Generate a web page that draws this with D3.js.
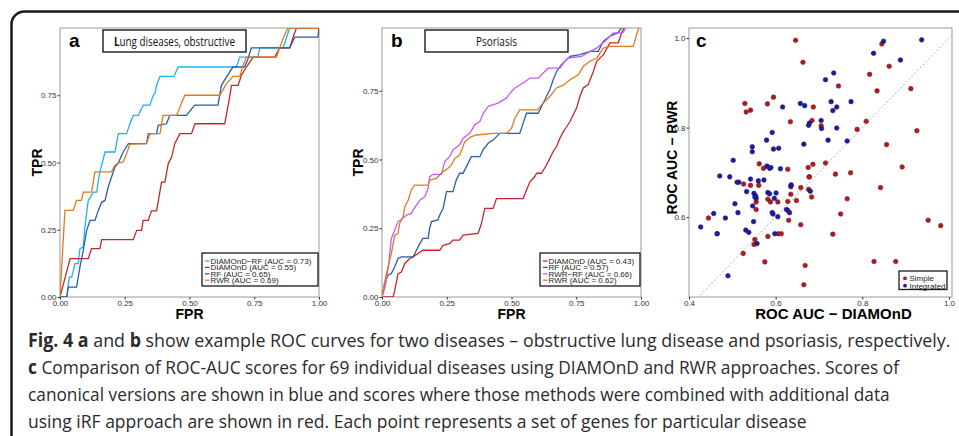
<!DOCTYPE html>
<html lang="en">
  <head>
    <meta charset="UTF-8" />
    <title>Fig. 4 ROC curves and ROC-AUC comparison</title>
    <script src="https://d3js.org/d3.v7.min.js"></script>
    <style>
      body { margin: 0; background: #fff; }
      svg { display: block; }
      .tick text { font: 8px "Liberation Sans", Arial, sans-serif; fill: #333; }
      .tick line { stroke: #333; }
      .axis-title { font: bold 14px "Liberation Sans", Arial, sans-serif; fill: #000; }
      .legend text { font: 8px "Liberation Sans", Arial, sans-serif; fill: #222; }
      .panel-tag { font: bold 19px "Liberation Sans", Arial, sans-serif; fill: #000; }
      .panel-title { font: 12px "Open Sans", sans-serif; fill: #111; }
      .caption { font: 19px "Open Sans", sans-serif; fill: #2b2b2b; }
    </style>
  </head>
  <body>
    <svg id="fig" width="959" height="436"></svg>
    <script>
      // ---- data ----
      // panel a: obstructive lung disease, [FPR, TPR]
      const lungNames = ["DIAMOnD\u2212RF", "DIAMOnD", "RF", "RWR"];
      const lungAuc = [0.73, 0.55, 0.65, 0.69];
      const lungDiamondRF = [[0,0],[0.026,0],[0.036,0.074],[0.045,0.074],[0.058,0.124],[0.07,0.124],[0.077,0.18],[0.09,0.186],[0.096,0.26],[0.109,0.359],[0.129,0.39],[0.142,0.39],[0.148,0.434],[0.154,0.465],[0.174,0.539],[0.212,0.539],[0.225,0.607],[0.257,0.607],[0.27,0.644],[0.283,0.675],[0.302,0.675],[0.321,0.713],[0.347,0.713],[0.36,0.75],[0.366,0.756],[0.373,0.787],[0.386,0.82],[0.44,0.82],[0.456,0.855],[0.681,0.855],[0.694,0.892],[0.764,0.892],[0.771,0.926],[0.861,0.926],[0.874,0.963],[0.887,1],[1,1]];
      const lungDiamond = [[0,0],[0.039,0.143],[0.109,0.143],[0.122,0.18],[0.154,0.18],[0.161,0.213],[0.283,0.213],[0.296,0.248],[0.315,0.248],[0.321,0.285],[0.341,0.285],[0.353,0.32],[0.373,0.32],[0.392,0.427],[0.405,0.427],[0.418,0.496],[0.431,0.52],[0.443,0.57],[0.463,0.607],[0.508,0.607],[0.521,0.644],[0.636,0.644],[0.655,0.743],[0.662,0.787],[0.688,0.787],[0.7,0.824],[0.72,0.855],[0.746,0.892],[0.829,0.892],[0.848,0.926],[0.887,0.926],[0.9,0.966],[0.913,1],[1,1]];
      const lungRF = [[0,0],[0.026,0],[0.032,0.037],[0.064,0.037],[0.077,0.112],[0.09,0.174],[0.103,0.248],[0.116,0.285],[0.135,0.285],[0.148,0.322],[0.161,0.353],[0.174,0.359],[0.186,0.409],[0.212,0.483],[0.225,0.498],[0.244,0.539],[0.264,0.57],[0.334,0.57],[0.341,0.607],[0.373,0.607],[0.379,0.638],[0.411,0.644],[0.424,0.675],[0.488,0.675],[0.52,0.713],[0.61,0.713],[0.623,0.787],[0.643,0.818],[0.668,0.855],[0.713,0.855],[0.726,0.886],[0.739,0.926],[0.887,0.926],[0.906,0.966],[0.996,0.966],[1,1]];
      const lungRWR = [[0,0],[0.019,0.322],[0.051,0.322],[0.064,0.359],[0.083,0.359],[0.09,0.39],[0.122,0.39],[0.135,0.465],[0.199,0.465],[0.212,0.49],[0.225,0.498],[0.244,0.502],[0.257,0.533],[0.27,0.568],[0.334,0.57],[0.347,0.607],[0.386,0.607],[0.398,0.675],[0.45,0.675],[0.482,0.75],[0.617,0.75],[0.643,0.793],[0.668,0.82],[0.694,0.82],[0.707,0.861],[0.72,0.892],[0.836,0.892],[0.848,0.926],[0.861,0.96],[0.88,1],[1,1]];

      // panel b: psoriasis, [FPR, TPR]
      const psoNames = ["DIAMOnD", "RF", "RWR\u2212RF", "RWR"];
      const psoAuc = [0.43, 0.57, 0.66, 0.62];
      const psoDiamond = [[0,0],[0.043,0],[0.049,0.024],[0.062,0.085],[0.075,0.091],[0.088,0.122],[0.107,0.14],[0.12,0.146],[0.139,0.158],[0.158,0.17],[0.223,0.17],[0.236,0.188],[0.261,0.194],[0.274,0.207],[0.3,0.207],[0.313,0.225],[0.371,0.231],[0.384,0.267],[0.397,0.322],[0.429,0.322],[0.442,0.358],[0.545,0.358],[0.558,0.389],[0.571,0.419],[0.59,0.438],[0.597,0.45],[0.616,0.45],[0.635,0.48],[0.648,0.504],[0.661,0.529],[0.674,0.547],[0.687,0.577],[0.7,0.601],[0.713,0.619],[0.726,0.638],[0.738,0.662],[0.751,0.686],[0.764,0.729],[0.777,0.76],[0.796,0.772],[0.816,0.82],[0.829,0.857],[0.855,0.881],[0.88,0.924],[0.912,0.924],[0.925,0.96],[0.938,0.985],[1,1]];
      const psoRF = [[0,0],[0.01,0.049],[0.023,0.079],[0.036,0.085],[0.049,0.109],[0.062,0.14],[0.075,0.146],[0.12,0.146],[0.133,0.17],[0.146,0.194],[0.158,0.213],[0.178,0.213],[0.184,0.25],[0.191,0.274],[0.216,0.28],[0.223,0.298],[0.236,0.322],[0.249,0.383],[0.274,0.383],[0.287,0.426],[0.3,0.45],[0.313,0.45],[0.326,0.474],[0.345,0.51],[0.378,0.51],[0.39,0.535],[0.41,0.559],[0.429,0.571],[0.442,0.583],[0.455,0.595],[0.532,0.595],[0.545,0.632],[0.558,0.668],[0.603,0.668],[0.616,0.693],[0.629,0.717],[0.648,0.754],[0.661,0.79],[0.674,0.82],[0.693,0.845],[0.726,0.875],[0.764,0.881],[0.803,0.893],[0.835,0.893],[0.855,0.93],[0.88,0.948],[0.91,0.96],[0.93,0.985],[1,1]];
      const psoRWRRF = [[0,0],[0.013,0.04],[0.026,0.12],[0.036,0.213],[0.049,0.243],[0.062,0.274],[0.081,0.286],[0.094,0.298],[0.113,0.304],[0.12,0.316],[0.133,0.334],[0.146,0.352],[0.165,0.364],[0.178,0.395],[0.184,0.437],[0.197,0.446],[0.23,0.446],[0.242,0.492],[0.261,0.51],[0.274,0.535],[0.3,0.553],[0.313,0.577],[0.339,0.595],[0.358,0.626],[0.378,0.638],[0.391,0.668],[0.41,0.693],[0.448,0.705],[0.48,0.723],[0.5,0.747],[0.513,0.76],[0.545,0.778],[0.571,0.796],[0.603,0.796],[0.622,0.814],[0.642,0.832],[0.687,0.832],[0.706,0.857],[0.719,0.869],[0.771,0.875],[0.803,0.893],[0.829,0.905],[0.861,0.93],[0.893,0.96],[0.93,0.96],[0.945,0.985],[1,1]];
      const psoRWR = [[0,0],[0.017,0.085],[0.036,0.158],[0.049,0.225],[0.062,0.231],[0.068,0.267],[0.081,0.29],[0.088,0.328],[0.101,0.352],[0.113,0.389],[0.126,0.407],[0.178,0.407],[0.184,0.425],[0.21,0.431],[0.229,0.45],[0.255,0.468],[0.268,0.48],[0.281,0.504],[0.3,0.516],[0.32,0.565],[0.345,0.583],[0.365,0.589],[0.429,0.595],[0.481,0.595],[0.5,0.613],[0.513,0.65],[0.532,0.68],[0.6,0.68],[0.622,0.705],[0.648,0.729],[0.674,0.76],[0.7,0.77],[0.726,0.79],[0.758,0.808],[0.777,0.838],[0.803,0.857],[0.829,0.869],[0.855,0.905],[0.88,0.911],[0.97,0.911],[0.985,0.96],[1,1]];

      // panel c: ROC AUC, [DIAMOnD, RWR]
      const simpleScores = [[0.646,0.995],[0.663,0.946],[0.745,0.893],[0.529,0.854],[0.581,0.853],[0.595,0.868],[0.532,0.835],[0.542,0.839],[0.687,0.846],[0.634,0.813],[0.684,0.816],[0.705,0.804],[0.845,0.987],[0.862,0.937],[0.817,0.919],[0.834,0.882],[0.912,0.887],[0.809,0.814],[0.788,0.796],[0.926,0.793],[0.856,0.762],[0.892,0.712],[0.562,0.719],[0.572,0.709],[0.628,0.707],[0.675,0.711],[0.686,0.718],[0.715,0.721],[0.677,0.69],[0.738,0.696],[0.773,0.699],[0.526,0.674],[0.542,0.671],[0.561,0.671],[0.635,0.668],[0.658,0.666],[0.676,0.662],[0.635,0.651],[0.683,0.645],[0.582,0.64],[0.588,0.634],[0.605,0.634],[0.628,0.635],[0.648,0.637],[0.555,0.634],[0.555,0.617],[0.765,0.641],[0.75,0.607],[0.842,0.666],[0.445,0.598],[0.465,0.563],[0.628,0.615],[0.63,0.593],[0.658,0.583],[0.606,0.563],[0.613,0.563],[0.582,0.557],[0.732,0.562],[0.552,0.55],[0.55,0.539],[0.525,0.519],[0.575,0.5],[0.668,0.492],[0.665,0.449],[0.827,0.501],[0.877,0.501],[0.952,0.593],[0.981,0.581],[0.678,0.69]];
      const integratedScores = [[0.849,0.993],[0.826,0.966],[0.937,0.996],[0.888,0.951],[0.734,0.922],[0.715,0.907],[0.657,0.854],[0.667,0.849],[0.616,0.846],[0.728,0.858],[0.741,0.846],[0.732,0.838],[0.774,0.858],[0.705,0.816],[0.678,0.81],[0.676,0.805],[0.706,0.798],[0.741,0.799],[0.721,0.772],[0.765,0.77],[0.592,0.789],[0.579,0.772],[0.546,0.757],[0.546,0.746],[0.595,0.752],[0.607,0.754],[0.665,0.763],[0.502,0.727],[0.471,0.692],[0.494,0.69],[0.511,0.678],[0.515,0.678],[0.542,0.685],[0.56,0.681],[0.58,0.714],[0.586,0.709],[0.589,0.711],[0.611,0.708],[0.573,0.683],[0.533,0.657],[0.55,0.653],[0.554,0.647],[0.555,0.642],[0.582,0.655],[0.586,0.652],[0.601,0.654],[0.597,0.642],[0.635,0.67],[0.68,0.658],[0.506,0.63],[0.547,0.625],[0.513,0.61],[0.457,0.608],[0.484,0.598],[0.592,0.61],[0.594,0.607],[0.605,0.601],[0.625,0.617],[0.632,0.61],[0.549,0.59],[0.427,0.578],[0.531,0.571],[0.538,0.566],[0.465,0.563],[0.598,0.563],[0.557,0.541],[0.49,0.469],[0.636,0.672],[0.552,0.645]];
      const scatterNames = ["Simple", "Integrated"];

      const rocTicks = [0, 0.25, 0.5, 0.75, 1];
      const aucTicks = [0.4, 0.6, 0.8, 1.0];

      const captionLines = [
        [["Fig. 4 a", true], [" and ", false], ["b", true], [" show example ROC curves for two diseases \u2013 obstructive lung disease and psoriasis, respectively.", false]],
        [["c", true], [" Comparison of ROC-AUC scores for 69 individual diseases using DIAMOnD and RWR approaches. Scores of", false]],
        [["canonical versions are shown in blue and scores where those methods were combined with additional data", false]],
        [["using iRF approach are shown in red. Each point represents a set of genes for particular disease", false]],
      ];

      // ---- drawing ----
      const svg = d3.select("#fig");
      svg.append("rect").attr("width", 959).attr("height", 436).attr("fill", "#fff");

      // the original face is a narrow humanist sans: squeeze Open Sans horizontally to the measured width
      function squeeze(t, x, y, width, anchor) {
        const w = t.node().getComputedTextLength();
        const sx = Math.min(1, width / w);
        const x0 = anchor === "middle" ? x - (w * sx) / 2 : x;
        t.attr("x", 0).attr("y", 0).attr("text-anchor", "start")
          .attr("transform", `translate(${x0},${y}) scale(${sx},1)`);
      }

      // rounded frame around the figure
      svg.append("path")
        .attr("d", "M11.5,436 V25 A13,13 0 0 1 24.5,11.5 H959")
        .attr("fill", "none")
        .attr("stroke", "#1a1a1a")
        .attr("stroke-width", 2.5);

      function panelFrame(g, x, y, id) {
        const [x0, x1] = x.range();
        const [y1, y0] = y.range();
        g.append("clipPath").attr("id", id)
          .append("rect").attr("x", x0).attr("y", y0).attr("width", x1 - x0).attr("height", y1 - y0);
        g.append("rect")
          .attr("x", x0).attr("y", y0).attr("width", x1 - x0).attr("height", y1 - y0)
          .attr("fill", "#fff").attr("stroke", "#9a9a9a").attr("stroke-width", 1);
      }

      function drawAxes(g, x, y, xTicks, yTicks, fmt) {
        g.append("g")
          .attr("transform", `translate(0,${y.range()[0]})`)
          .call(d3.axisBottom(x).tickValues(xTicks).tickFormat(fmt).tickSize(2.5).tickPadding(0.5))
          .call((a) => a.select(".domain").remove());
        g.append("g")
          .attr("transform", `translate(${x.range()[0]},0)`)
          .call(d3.axisLeft(y).tickValues(yTicks).tickFormat(fmt).tickSize(2.5).tickPadding(1))
          .call((a) => a.select(".domain").remove());
      }

      function drawRoc(cfg) {
        const g = svg.append("g");
        const x = d3.scaleLinear().domain([0, 1]).range([cfg.left, cfg.right]);
        const y = d3.scaleLinear().domain([0, cfg.yMax]).range([297, 28]);
        panelFrame(g, x, y, cfg.id);

        const line = d3.line().x((d) => x(d[0])).y((d) => y(d[1]));
        g.append("g").attr("clip-path", `url(#${cfg.id})`)
          .selectAll("path")
          .data(cfg.curves)
          .join("path")
          .attr("d", (d) => line(d.data))
          .attr("fill", "none")
          .attr("stroke", (d) => d.color)
          .attr("stroke-width", 1.3);

        drawAxes(g, x, y, rocTicks, rocTicks.slice(0, 4), d3.format(".2f"));

        g.append("text").attr("class", "axis-title")
          .attr("x", (cfg.left + cfg.right) / 2).attr("y", 319)
          .attr("text-anchor", "middle").text("FPR");
        g.append("text").attr("class", "axis-title")
          .attr("transform", `translate(${cfg.tprX},162.5) rotate(-90)`)
          .attr("text-anchor", "middle").text("TPR");

        // panel letter and title box
        g.append("text").attr("class", "panel-tag").attr("x", cfg.left + 9).attr("y", 46.5).text(cfg.tag);
        g.append("rect")
          .attr("x", cfg.titleBox[0]).attr("y", 30)
          .attr("width", cfg.titleBox[1] - cfg.titleBox[0]).attr("height", 22)
          .attr("fill", "#fff").attr("stroke", "#1a1a1a").attr("stroke-width", 1.4);
        const t = g.append("text").attr("class", "panel-title");
        if (cfg.boldFirst) {
          t.append("tspan").attr("font-weight", 700).text(cfg.title[0]);
          t.append("tspan").text(cfg.title.slice(1));
        } else {
          t.text(cfg.title);
        }
        squeeze(t, (cfg.titleBox[0] + cfg.titleBox[1]) / 2, 45.5, cfg.titleWidth, "middle");

        // legend
        const lg = g.append("g").attr("class", "legend");
        lg.append("rect")
          .attr("x", cfg.legend[0]).attr("y", 253)
          .attr("width", cfg.legend[1] - cfg.legend[0]).attr("height", 33)
          .attr("fill", "#fff").attr("stroke", "#1a1a1a").attr("stroke-width", 1.3);
        cfg.curves.forEach((c, i) => {
          const cy = 261 + i * 6.4;
          lg.append("line")
            .attr("x1", cfg.legend[0] + 3).attr("x2", cfg.legend[0] + 7.5)
            .attr("y1", cy).attr("y2", cy)
            .attr("stroke", c.color).attr("stroke-width", 1.3);
          lg.append("text")
            .attr("x", cfg.legend[0] + 8.5).attr("y", cy + 2.9)
            .text(`${c.name} (AUC = ${c.auc.toFixed(2)})`);
        });
      }

      const lungColors = ["#1fb3ef", "#c1272d", "#2a5ea6", "#de7a1f"];
      const lungData = [lungDiamondRF, lungDiamond, lungRF, lungRWR];
      drawRoc({
        id: "clipA", tag: "a", left: 60, right: 319, yMax: 1, tprX: 42,
        title: "Lung diseases, obstructive", boldFirst: true, titleBox: [103, 246], titleWidth: 121,
        legend: [202, 318],
        curves: lungNames.map((n, i) => ({ name: n, auc: lungAuc[i], color: lungColors[i], data: lungData[i] })),
      });

      const psoColors = ["#c1272d", "#2a5ea6", "#c75bf6", "#de7a1f"];
      const psoData = [psoDiamond, psoRF, psoRWRRF, psoRWR];
      drawRoc({
        id: "clipB", tag: "b", left: 382, right: 641, yMax: 0.978, tprX: 363,
        title: "Psoriasis", boldFirst: false, titleBox: [425, 568], titleWidth: 41,
        legend: [540, 640],
        curves: psoNames.map((n, i) => ({ name: n, auc: psoAuc[i], color: psoColors[i], data: psoData[i] })),
      });

      // panel c: scatter of ROC AUC scores
      const gc = svg.append("g");
      const xc = d3.scaleLinear().domain([0.4, 1.007]).range([689, 952]);
      const yc = d3.scaleLinear().domain([0.4216, 1.0225]).range([297, 28]);
      panelFrame(gc, xc, yc, "clipC");

      gc.append("line").attr("clip-path", "url(#clipC)")
        .attr("x1", xc(0.4)).attr("y1", yc(0.4))
        .attr("x2", xc(1.05)).attr("y2", yc(1.05))
        .attr("stroke", "#b0b0b0").attr("stroke-width", 1).attr("stroke-dasharray", "2,2");

      const scatterColors = ["#a81e22", "#1d1d9c"];
      [simpleScores, integratedScores].forEach((pts, k) => {
        gc.append("g").selectAll("circle")
          .data(pts)
          .join("circle")
          .attr("cx", (d) => xc(d[0]))
          .attr("cy", (d) => yc(d[1]))
          .attr("r", 2.3)
          .attr("fill", scatterColors[k])
          .attr("stroke", d3.color(scatterColors[k]).darker(0.6))
          .attr("stroke-width", 0.6);
      });

      drawAxes(gc, xc, yc, aucTicks, aucTicks.slice(1), d3.format(".1f"));

      gc.append("text").attr("class", "axis-title")
        .attr("x", 833.5).attr("y", 319).attr("text-anchor", "middle")
        .style("font-size", "15px").text("ROC AUC \u2212 DIAMOnD");
      gc.append("text").attr("class", "axis-title")
        .attr("transform", "translate(677,157.5) rotate(-90)")
        .attr("text-anchor", "middle").text("ROC AUC \u2212 RWR");
      gc.append("text").attr("class", "panel-tag").attr("x", 696).attr("y", 46.5).text("c");

      const lc = gc.append("g").attr("class", "legend");
      lc.append("rect").attr("x", 899).attr("y", 271).attr("width", 48).attr("height", 18.5)
        .attr("fill", "#fff").attr("stroke", "#1a1a1a").attr("stroke-width", 1.3);
      scatterNames.forEach((n, i) => {
        const cy = 278.3 + i * 7.4;
        lc.append("circle").attr("cx", 905).attr("cy", cy).attr("r", 1.9).attr("fill", scatterColors[i]);
        lc.append("text").attr("x", 909.5).attr("y", cy + 2.9).text(n);
      });

      // caption
      const captionWidths = [923, 872, 862, 779];
      captionLines.forEach((parts, i) => {
        const t = svg.append("text").attr("class", "caption");
        parts.forEach(([s, b]) => {
          t.append("tspan").attr("font-weight", b ? 700 : 400).text(s);
        });
        squeeze(t, 28, 347 + i * 27, captionWidths[i], "start");
      });
    </script>
  </body>
</html>
